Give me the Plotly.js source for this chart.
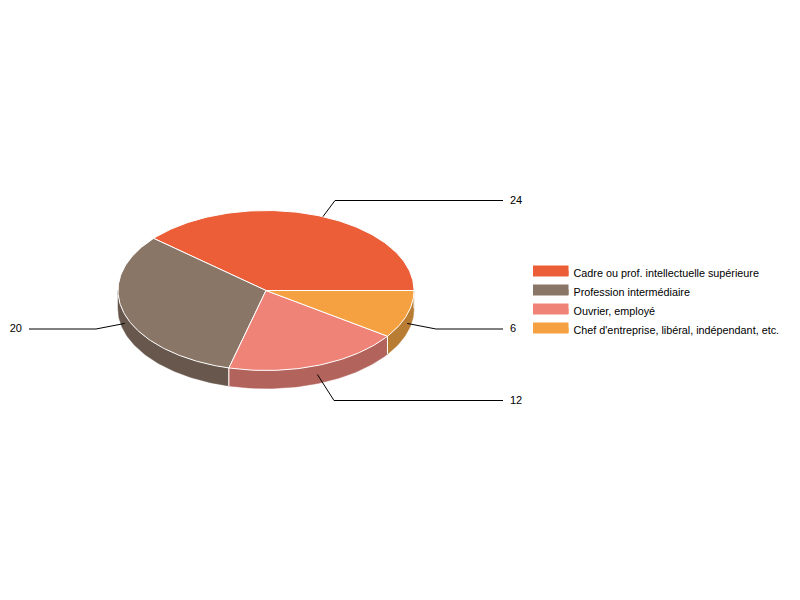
<!DOCTYPE html>
<html><head><meta charset="utf-8">
<script src="https://cdn.plot.ly/plotly-3.0.1.min.js"></script>
<style>html,body{margin:0;padding:0;background:#fff}</style>
</head><body><div id="chart" style="width:800px;height:600px"></div>
<script>
const categories = ["Cadre ou prof. intellectuelle supérieure","Profession intermédiaire","Ouvrier, employé","Chef d'entreprise, libéral, indépendant, etc."];
const values = [24,20,12,6];
const topColors = ["#EB5E38","#8A7667","#F08377","#F5A141"];
const sideColors = ["#A8482B","#67574C","#B2635B","#B87C33"];
const leaderTweak = [-2.3,0,0,0];
const elbowX = [335,96,334,436];
const elbowY = [200.5,329,400.5,329];
const endX = [503,29,503,503];
const labelX = [510,22,510,510];
const labelY = [201,329,401,329];
const labelPos = ["middle right","middle left","middle right","middle right"];

const cx=266, cy=290.5, rx=148, ry=80, depth=18;
const px = a => cx+rx*Math.cos(a*Math.PI/180);
const py = a => cy-ry*Math.sin(a*Math.PI/180);
const total = values.reduce((s,v)=>s+v,0);
let start=0;
const slices = values.map(v=>{const s={a0:start,a1:start+v/total*360};start=s.a1;return s;});

function arc(a0,a1){const n=Math.max(2,Math.ceil(Math.abs(a1-a0)));const out=[];for(let i=0;i<=n;i++)out.push(a0+(a1-a0)*i/n);return out;}

const traces=[];
// side walls (visible lower half only)
slices.forEach((s,i)=>{
  const a0=Math.max(s.a0,180), a1=Math.min(s.a1,360);
  if(a1<=a0) return;
  const as=arc(a0,a1);
  const x=as.map(px).concat(as.slice().reverse().map(px));
  const y=as.map(a=>py(a)+depth).concat(as.slice().reverse().map(py));
  x.push(x[0]);y.push(y[0]);
  traces.push({type:'scatter',mode:'lines',x,y,fill:'toself',fillcolor:sideColors[i],line:{color:sideColors[i],width:0.5},showlegend:false,hoverinfo:'skip'});
  // white separator at slice boundary
  [a0,a1].forEach(a=>{
    if(a>180 && a<360) traces.push({type:'scatter',mode:'lines',x:[px(a),px(a)],y:[py(a),py(a)+depth],line:{color:'#fff',width:1},showlegend:false,hoverinfo:'skip'});
  });
});
// top slices
slices.forEach((s,i)=>{
  const as=arc(s.a0,s.a1);
  const x=[cx].concat(as.map(px),[cx]);
  const y=[cy].concat(as.map(py),[cy]);
  traces.push({type:'scatter',mode:'lines',x,y,fill:'toself',fillcolor:topColors[i],line:{color:'#fff',width:1},showlegend:false,hoverinfo:'skip'});
});
// leader lines and value labels
slices.forEach((s,i)=>{
  const m=(s.a0+s.a1)/2+leaderTweak[i];
  const lower=Math.sin(m*Math.PI/180)<0;
  traces.push({type:'scatter',mode:'lines',x:[px(m),elbowX[i],endX[i]],y:[py(m)+(lower?depth/2:0),elbowY[i],elbowY[i]],line:{color:'#000',width:1},showlegend:false,hoverinfo:'skip'});
  traces.push({type:'scatter',mode:'text',x:[labelX[i]],y:[labelY[i]],text:[String(values[i])],textposition:labelPos[i],textfont:{family:'Liberation Sans, Arial, sans-serif',size:11,color:'#000'},showlegend:false,hoverinfo:'skip',cliponaxis:false});
});
// legend entries
categories.forEach((c,i)=>{
  traces.push({type:'scatter',mode:'lines',x:[null],y:[null],name:c,legendgroup:'g'+i,fill:'toself',fillcolor:topColors[i],line:{color:topColors[i],width:10}});
});

Plotly.newPlot('chart',traces,{
  width:800,height:600,margin:{l:0,r:0,t:0,b:0},
  paper_bgcolor:'#fff',plot_bgcolor:'#fff',
  xaxis:{range:[0,800],visible:false,fixedrange:true},
  yaxis:{range:[600,0],visible:false,fixedrange:true},
  showlegend:true,hovermode:false,
  legend:{x:0.66,xanchor:'left',y:0.4983,yanchor:'middle',itemwidth:35.5,tracegroupgap:0,itemclick:false,itemdoubleclick:false,
    bgcolor:'rgba(0,0,0,0)',font:{family:'Liberation Sans, Arial, sans-serif',size:10.8,color:'#000'}}
},{displayModeBar:false});
</script></body></html>
